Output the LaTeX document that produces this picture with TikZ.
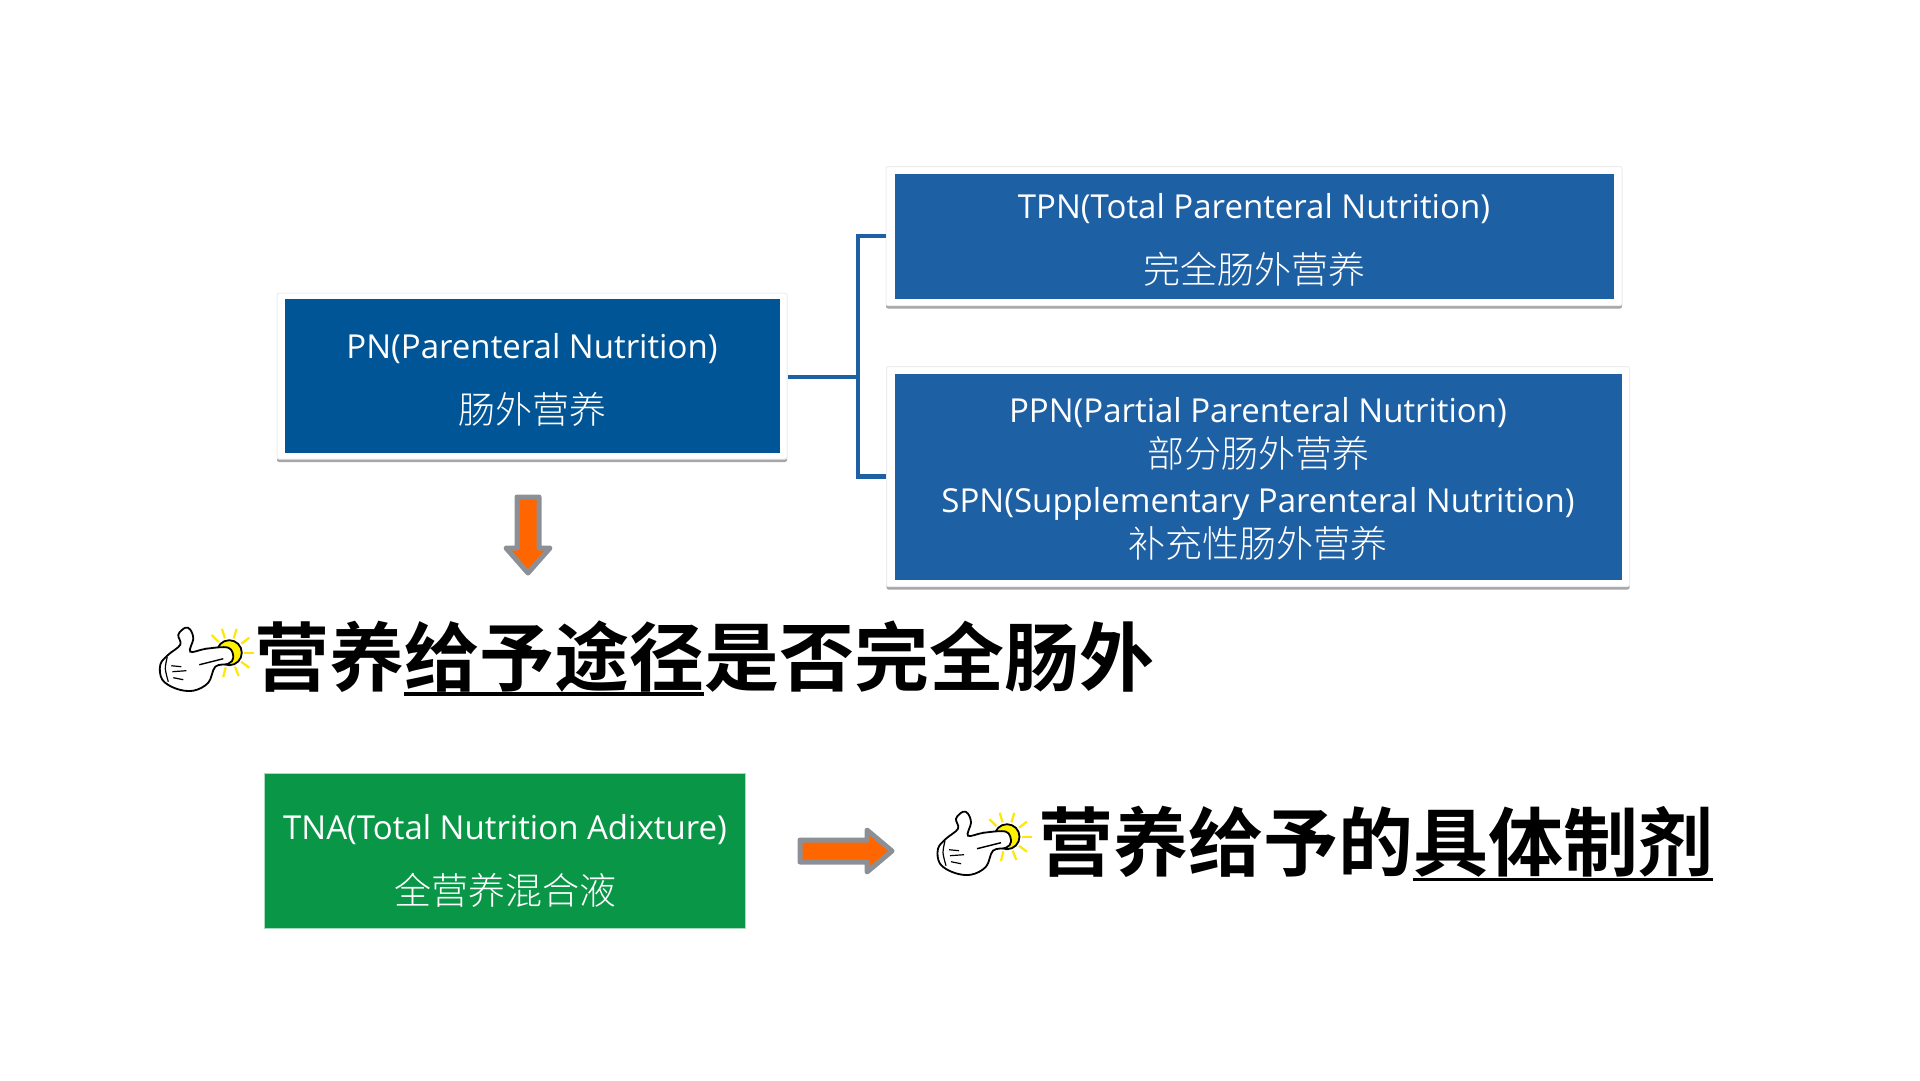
\documentclass[tikz,border=0pt]{standalone}
\usepackage{fontspec}
\setmainfont{Open Sans}
\newfontfamily\cjkthin{Noto Sans CJK SC Light}
\newfontfamily\cjkheavy{Noto Sans CJK SC Bold}
\usetikzlibrary{shadows}
\definecolor{pnblue}{HTML}{005596}
\definecolor{subblue}{HTML}{1E60A4}
\definecolor{tnagreen}{HTML}{0A9647}
\definecolor{arroworange}{HTML}{FF6600}
\definecolor{arrowgray}{HTML}{8C9096}
\newcommand{\hanul}[1]{\leavevmode\setbox0=\hbox{#1}\rlap{\rule[-0.14em]{\wd0}{0.05em}}\box0}
\tikzset{
  card/.style={fill=white,draw=black!7,line width=1,rounded corners=2,drop shadow={shadow xshift=0pt,shadow yshift=-3pt,fill=black!50,opacity=0.7}},
  panel/.style={text=white,align=center,inner sep=0pt},
  twoline/.style={font=\fontsize{33}{65}\selectfont},
  fourline/.style={font=\fontsize{33}{45}\selectfont},
  headline/.style={font=\fontsize{75}{80}\selectfont\cjkheavy,anchor=west,inner sep=0pt},
  branch/.style={draw=subblue,line width=4.5},
  blockarrow/.style={draw=arrowgray,fill=arroworange,line width=5,line join=round},
  handicon/.pic={
    \foreach \a in {0,37,68,104,190,225,253,287,323}
      \draw[yellow!90!orange,line width=2.2] (\a:15)--(\a:25);
    \draw[line width=1.8,fill=yellow] (0,0) circle (12.5);
    \draw[line width=1.8,fill=white] plot[smooth cycle,tension=0.6] coordinates
      {(-44,-25) (-51,-18) (-49,-8) (-61,2) (-69,12) (-67,27) (-53,36) (-36,38) (-21,30) (-14,14) (-1,11) (4,5) (-1,-5) (-23,-4) (-39,-1) (-36,-14) (-39,-23)};
    \draw[line width=1.2] plot[smooth] coordinates {(-62,4) (-64,16) (-61,29)};
    \draw[line width=1.2] (-58,13)--(-48,14);
    \draw[line width=1.2] (-57,19)--(-43,18);
    \draw[line width=1.2] (-56,25)--(-46,27);
    \draw[line width=1.4] (-30,12)--(-6,6);
  }
}
\begin{document}
\begin{tikzpicture}[x=1pt,y=-1pt]
\useasboundingbox (0,0) rectangle (1920,1080);
% cards
\node[card,minimum width=510,minimum height=166] (pncard) at (532,376) {};
\node[card,minimum width=736,minimum height=139] (tpncard) at (1254,236) {};
\node[card,minimum width=743,minimum height=220] (ppncard) at (1258,476.5) {};
% boxes
\node[fill=pnblue,inner sep=0pt,minimum width=495,minimum height=154] (pn) at (pncard) {};
\node[fill=subblue,inner sep=0pt,minimum width=719,minimum height=125] (tpn) at (tpncard) {};
\node[fill=subblue,inner sep=0pt,minimum width=727,minimum height=206] (ppn) at (ppncard) {};
\node[fill=tnagreen,draw=tnagreen!35!white,line width=1.5,inner sep=0pt,minimum width=481,minimum height=155] (tna) at (505,851) {};
% box texts
\node[panel,twoline] (pntext) at ([yshift=-3.5pt]pn.center)
  {PN(Parenteral Nutrition)\\{\cjkthin\fontsize{37}{65}\selectfont 肠外营养}};
\node[panel,twoline] (tpntext) at ([yshift=-4pt]tpn.center)
  {TPN(Total Parenteral Nutrition)\\{\cjkthin\fontsize{37}{65}\selectfont 完全肠外营养}};
\node[panel,fourline] (ppntext) at ([yshift=-2pt]ppn.center)
  {PPN(Partial Parenteral Nutrition)\\{\cjkthin\fontsize{37}{45}\selectfont 部分肠外营养}\\
   SPN(Supplementary Parenteral Nutrition)\\{\cjkthin\fontsize{37}{45}\selectfont 补充性肠外营养}};
\node[panel,twoline] (tnatext) at ([yshift=-10pt]tna.center)
  {TNA(Total Nutrition Adixture)\\{\cjkthin\fontsize{37}{65}\selectfont 全营养混合液}};
% connectors
\coordinate (fork) at (858,377);
\draw[branch] (pncard.east |- fork)--(fork);
\draw[branch] (tpncard.west)-|(fork);
\draw[branch] (ppncard.west)-|(fork);
% arrows
\draw[blockarrow] (517,497)--(539,497)--(539,548)--(550,548)--(528,573)--(506,548)--(517,548)--cycle;
\draw[blockarrow] (800,840)--(867,840)--(867,830)--(892,851)--(867,872)--(867,862)--(800,862)--cycle;
% headlines
\pic at (229.3,652.7) {handicon};
\node[headline] (routetext) at (254,658) {营养\hanul{给予途径}是否完全肠外};
\pic at (1007,836.7) {handicon};
\node[headline] (formtext) at (1038,844) {营养给予的\hanul{具体制剂}};
\end{tikzpicture}
\end{document}
